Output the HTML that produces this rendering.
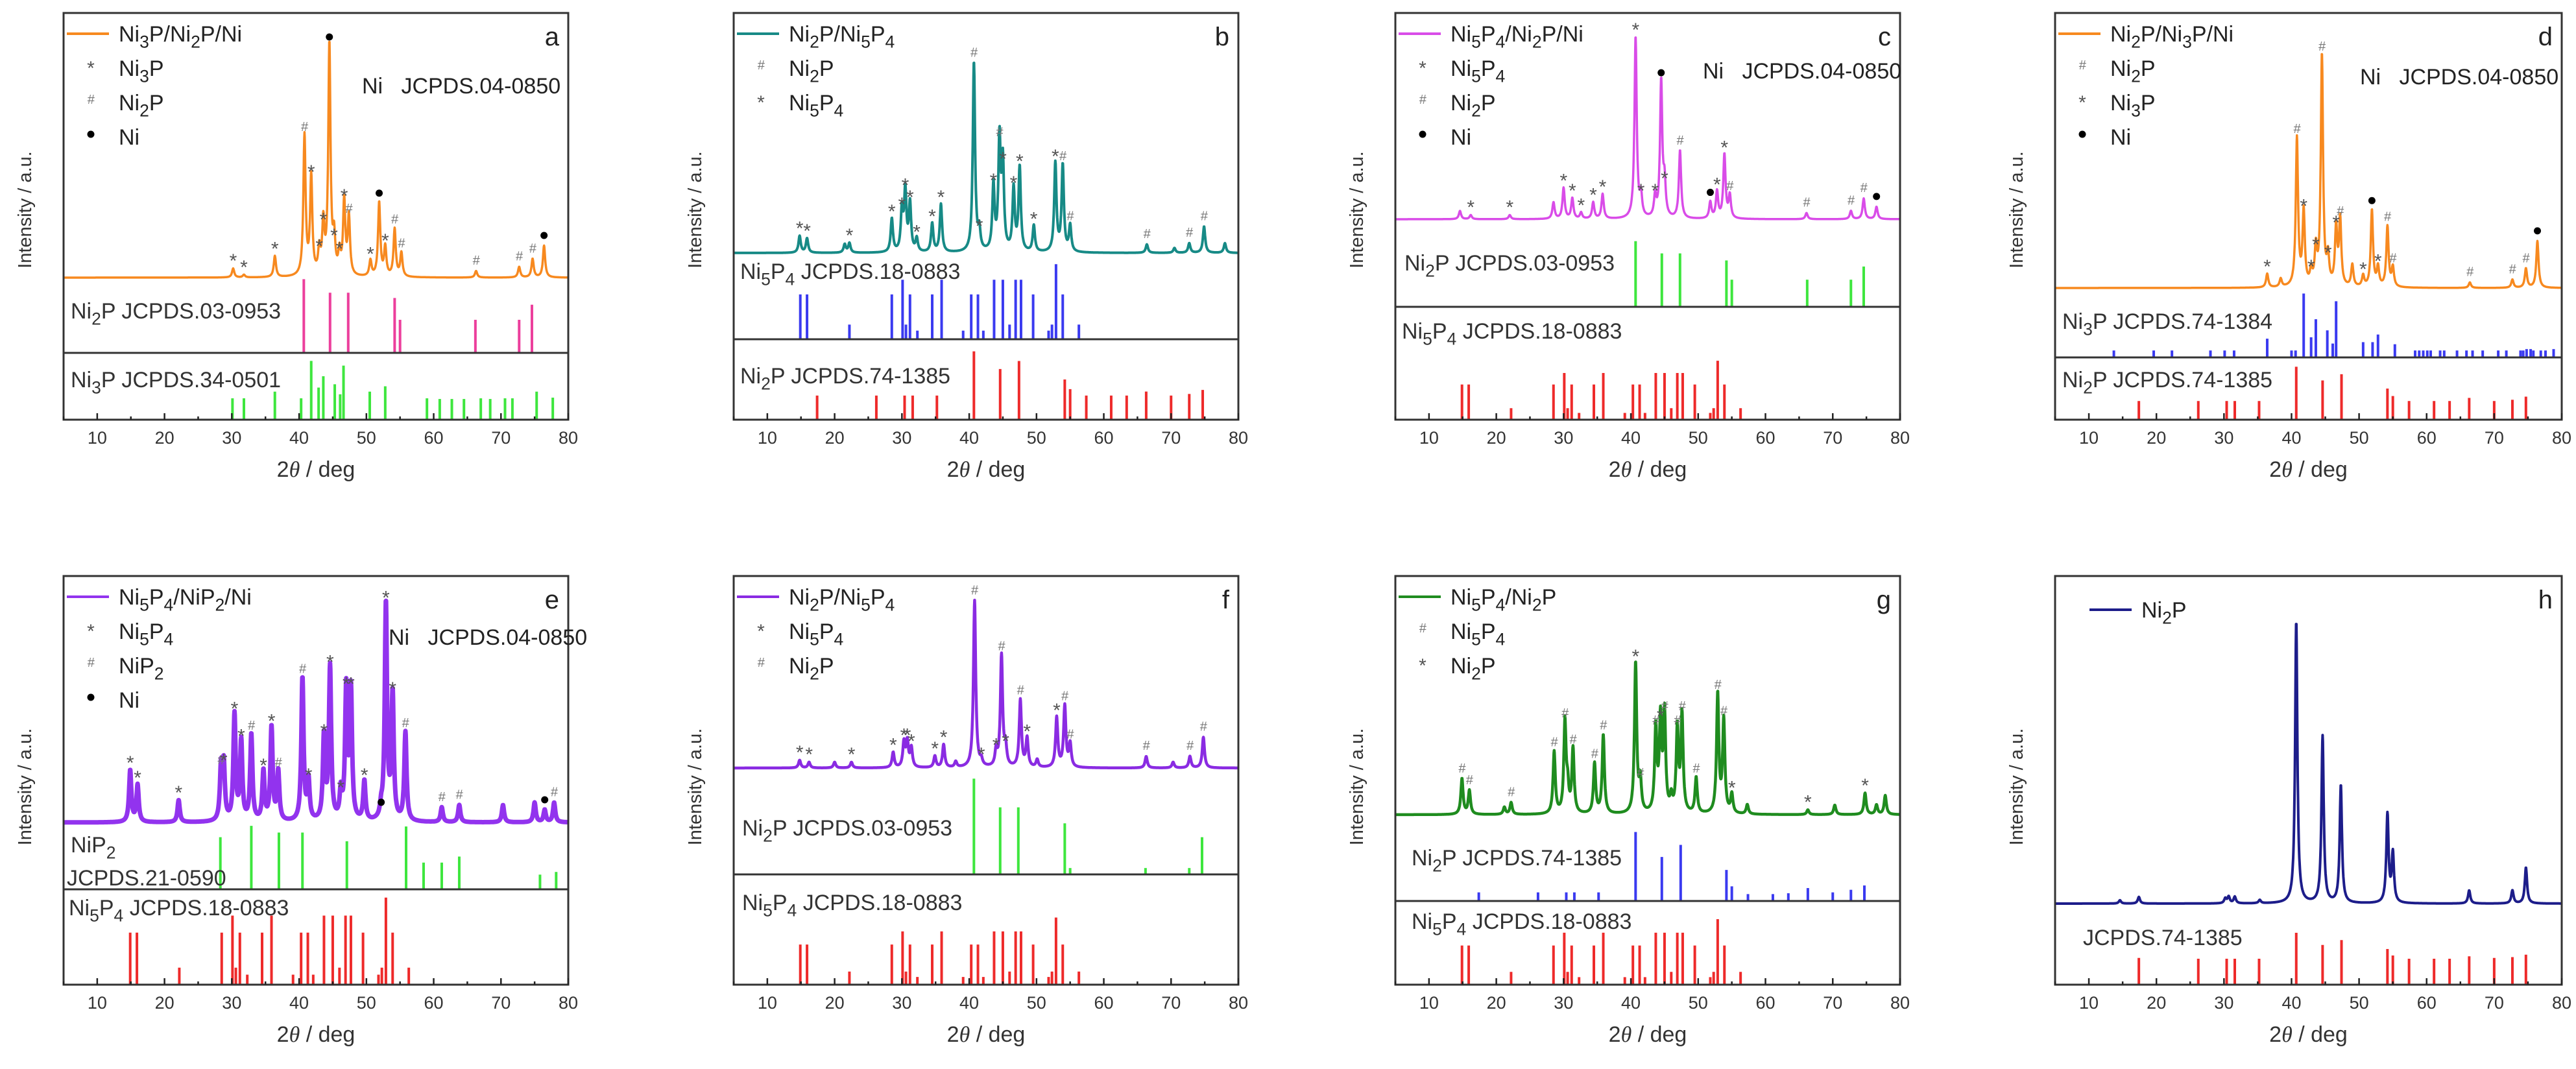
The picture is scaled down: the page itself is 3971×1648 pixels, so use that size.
<!DOCTYPE html>
<html><head><meta charset="utf-8"><style>
html,body{margin:0;padding:0;background:#fff;}
svg{display:block;font-family:"Liberation Sans",sans-serif;}
</style></head><body>
<svg id="fig" xmlns="http://www.w3.org/2000/svg" width="3971" height="1648" viewBox="0 0 3971 1648"></svg>
<script>
// ---------- data ----------
const tickVals=[10,20,30,40,50,60,70,80];
const ni5X=[14.9,15.9,22.2,28.5,30.1,30.6,31.2,32.3,34.5,35.9,39.1,40.3,41.3,42.1,43.7,45.0,46.0,46.9,47.7,49.5,51.8,52.3,52.9,53.9,56.3];
const ni5H=[.52,.52,.17,.52,.69,.17,.52,.1,.52,.69,.1,.52,.52,.1,.69,.69,.17,.69,.69,.52,.1,.17,.87,.52,.17];
const ni2p74X=[17.4,26.2,30.4,31.6,35.2,40.7,44.6,47.4,54.2,55.0,57.4,61.1,63.4,66.3,70.0,72.7,74.7];
const ni2p74H=[.3,.3,.3,.3,.3,.85,.63,.73,.5,.38,.3,.3,.3,.35,.3,.32,.37];
const ni2p03X=[40.7,44.6,47.3,54.2,55.0,66.2,72.7,74.6];

const aPeakX=[30.2,31.8,36.4,40.8,41.8,43.0,43.6,44.5,45.2,46.0,46.7,47.4,50.6,51.9,52.8,54.2,55.2,66.3,72.7,74.7,76.4];
const aPeakH=[.034,.01,.08,.53,.37,.09,.19,.87,.13,.08,.28,.22,.06,.28,.11,.18,.09,.025,.04,.07,.12];
const aMarks=['*','*','*','#','*','*','*','•','*','*','*','#','*','•','*','#','#','#','#','#','•'];
const aS1H=[.98,.8,.8,.73,.44,.44,.44,.64];
const aS2X=[30.1,31.8,36.4,40.3,41.8,42.9,43.6,45.3,46.1,46.6,50.5,52.8,59.0,60.9,62.7,64.5,67.0,68.4,70.6,71.7,75.3,77.7];
const aS2H=[.32,.32,.42,.32,.88,.48,.65,.53,.38,.81,.42,.50,.32,.31,.31,.31,.32,.31,.32,.32,.42,.33];

const bPeakX=[14.8,15.9,21.5,22.2,28.5,30.0,30.5,31.2,32.2,34.5,35.8,40.7,41.5,43.6,44.5,45.0,46.6,47.5,49.6,52.8,53.9,55.0,66.4,70.5,72.7,74.9,78.0];
const bPeakH=[.07,.06,.035,.04,.14,.17,.25,.2,.055,.12,.2,.79,.08,.27,.46,.36,.26,.35,.11,.37,.36,.11,.035,.02,.04,.11,.04];
const bMarks=['*','*','','*','*','*','*','*','*','*','*','#','*','*','#','*','*','*','*','*','#','#','#','','#','#',''];

const cPeakX=[14.6,16.2,22.0,28.5,30.0,31.3,32.6,34.4,35.8,40.7,41.5,43.6,44.5,45.0,47.3,51.8,52.8,53.9,54.7,66.1,72.7,74.6,76.5];
const cPeakH=[.04,.02,.02,.08,.15,.1,.03,.08,.12,.88,.1,.1,.66,.16,.33,.08,.13,.31,.11,.03,.04,.1,.06];
const cMarks=['','*','*','','*','*','*','*','*','*','*','*','•','*','#','•','*','*','#','#','#','#','•'];
const cS1H=[.75,.61,.61,.53,.31,.31,.31,.46];

const dPeakX=[36.4,38.4,40.8,41.8,42.9,43.6,44.5,45.4,46.6,47.2,49.0,50.6,51.9,52.8,54.2,55.0,66.4,72.7,74.7,76.4];
const dPeakH=[.05,.03,.54,.27,.05,.13,.84,.1,.21,.24,.08,.04,.28,.07,.22,.07,.02,.03,.07,.17];
const dMarks=['*','','#','*','*','*','#','*','*','#','','*','•','*','#','#','#','#','#','•'];
const dS1X=[13.7,19.6,22.3,28.0,30.1,31.5,36.4,40.0,40.6,41.8,42.9,43.6,45.3,46.1,46.6,50.6,52.0,52.8,55.3,58.3,58.9,59.5,60.1,60.6,62.0,62.6,64.5,65.9,66.8,68.3,70.6,71.8,73.9,74.3,74.8,75.4,75.8,76.9,77.6,78.8];
const dS1H=[.1,.1,.1,.1,.1,.1,.27,.1,.1,.92,.29,.55,.39,.2,.81,.22,.22,.33,.19,.1,.1,.1,.1,.1,.1,.1,.1,.1,.1,.1,.1,.1,.1,.1,.12,.12,.1,.1,.1,.12];

const ePeakX=[14.9,16.0,22.1,28.4,28.8,30.4,31.4,32.9,34.7,35.9,36.9,40.5,41.4,43.7,44.6,46.2,47.0,47.7,49.7,52.2,52.9,53.9,55.8,61.2,63.8,70.3,75.0,76.5,77.9];
const ePeakH=[.21,.15,.09,.21,.22,.43,.32,.35,.2,.38,.2,.58,.16,.34,.62,.11,.53,.53,.16,.04,.88,.51,.36,.06,.07,.07,.08,.05,.08];
const eMarks=['*','*','*','#','*','*','*','#','*','*','#','#','*','*','*','*','*','*','*','•','*','*','#','#','#','','','•','#'];
const eS1X=[28.3,32.9,37.0,40.5,47.1,55.9,58.5,61.2,63.8,75.8,78.2];
const eS1H=[.78,.95,.85,.85,.72,.94,.4,.4,.49,.22,.26];

const fPeakX=[14.8,16.2,20.0,22.5,28.7,30.3,30.8,31.4,34.9,36.2,38.0,40.8,41.8,44.0,44.8,45.4,47.6,48.6,50.1,53.0,54.2,55.0,66.3,70.3,72.8,74.8];
const fPeakH=[.04,.03,.03,.03,.08,.13,.13,.1,.06,.12,.03,.87,.03,.08,.58,.1,.35,.15,.04,.26,.32,.12,.06,.03,.06,.16];
const fMarks=['*','*','','*','*','*','*','*','*','*','','#','*','*','#','*','#','*','','*','#','#','#','','#','#'];
const fS1H=[.9,.63,.63,.48,.06,.06,.06,.35];

const gPeakX=[14.9,16.0,21.2,22.2,28.6,30.2,30.6,31.4,34.6,35.9,40.7,41.4,43.7,44.4,45.0,46.0,46.9,47.6,49.7,52.9,53.8,55.0,57.3,66.3,70.3,74.8,76.5,77.8];
const gPeakH=[.15,.1,.03,.05,.26,.38,.1,.27,.21,.33,.63,.13,.35,.38,.41,.06,.35,.41,.15,.5,.39,.08,.04,.02,.04,.09,.04,.08];
const gMarks=['#','#','','#','#','#','','#','#','#','*','#','#','*','#','','#','#','#','#','#','*','','*','','*','',''];
const gS1H=[.1,.1,.1,.1,.1,.8,.51,.65,.36,.17,.08,.08,.09,.15,.1,.13,.18];

const hPeakX=[14.6,17.4,30.2,30.7,31.6,35.3,40.7,44.6,47.3,54.2,55.0,66.3,72.7,74.7];
const hPeakH=[.01,.02,.015,.02,.02,.01,.86,.51,.36,.27,.15,.04,.04,.11];
const hS1H=[.33,.32,.32,.32,.32,.64,.49,.55,.44,.36,.32,.32,.32,.35,.33,.34,.37];

// ---------- layout ----------
const panels=[
 {id:'a',x0:98,x1:876,y0:20,y1:647,base:428,div:544,col:'#f7891f',lw:3.5,px:aPeakX,ph:aPeakH,mk:aMarks,
  legend:[['line','Ni_3P/Ni_2P/Ni'],['*','Ni_3P'],['#','Ni_2P'],['•','Ni']],ni:[460,112],
  s1:{x:ni2p03X,h:aS1H,sc:1,col:'#ec3f9c',lab:'Ni_2P JCPDS.03-0953',lx:11,ly:491},
  s2:{x:aS2X,h:aS2H,sc:1,col:'#3ee63e',lab:'Ni_3P JCPDS.34-0501',lx:11,ly:597}},
 {id:'b',x0:1131,x1:1909,y0:20,y1:647,base:390,div:523,col:'#178a86',lw:4,px:bPeakX,ph:bPeakH,mk:bMarks,
  legend:[['line','Ni_2P/Ni_5P_4'],['#','Ni_2P'],['*','Ni_5P_4']],
  s1:{x:ni5X,h:ni5H,sc:1,col:'#3a3af0',lab:'Ni_5P_4 JCPDS.18-0883',lx:10,ly:430},
  s2:{x:ni2p74X,h:ni2p74H,sc:1,col:'#ee2a2a',lab:'Ni_2P  JCPDS.74-1385',lx:10,ly:591}},
 {id:'c',x0:2151,x1:2929,y0:20,y1:647,base:338,div:473,col:'#d94ce8',lw:3.5,px:cPeakX,ph:cPeakH,mk:cMarks,
  legend:[['line','Ni_5P_4/Ni_2P/Ni'],['*','Ni_5P_4'],['#','Ni_2P'],['•','Ni']],ni:[474,89],
  s1:{x:ni2p03X,h:cS1H,sc:1,col:'#3ee63e',lab:'Ni_2P  JCPDS.03-0953',lx:14,ly:417},
  s2:{x:ni5X,h:ni5H,sc:.6,col:'#ee2a2a',lab:'Ni_5P_4  JCPDS.18-0883',lx:10,ly:522}},
 {id:'d',x0:3168,x1:3949,y0:20,y1:647,base:444,div:551,col:'#f7891f',lw:3.5,px:dPeakX,ph:dPeakH,mk:dMarks,
  legend:[['line','Ni_2P/Ni_3P/Ni'],['#','Ni_2P'],['*','Ni_3P'],['•','Ni']],ni:[470,98],
  s1:{x:dS1X,h:dS1H,sc:1,col:'#3a3af0',lab:'Ni_3P JCPDS.74-1384',lx:11,ly:507},
  s2:{x:ni2p74X,h:ni2p74H,sc:1,col:'#ee2a2a',lab:'Ni_2P JCPDS.74-1385',lx:11,ly:597}},
 {id:'e',x0:98,x1:876,y0:888,y1:1518,base:1268,div:1371,col:'#9233ee',lw:7,px:ePeakX,ph:ePeakH,mk:eMarks,
  legend:[['line','Ni_5P_4/NiP_2/Ni'],['*','Ni_5P_4'],['#','NiP_2'],['•','Ni']],ni:[501,94],
  s1:{x:eS1X,h:eS1H,sc:1,col:'#3ee63e',lab:'NiP_2',lx:11,ly:1314,lab2:'JCPDS.21-0590',ly2:1365},
  s2:{x:ni5X,h:ni5H,sc:1.05,col:'#ee2a2a',lab:'Ni_5P_4 JCPDS.18-0883',lx:8,ly:1411}},
 {id:'f',x0:1131,x1:1909,y0:888,y1:1518,base:1184,div:1348,col:'#8a2be2',lw:4.5,px:fPeakX,ph:fPeakH,mk:fMarks,
  legend:[['line','Ni_2P/Ni_5P_4'],['*','Ni_5P_4'],['#','Ni_2P']],
  s1:{x:ni2p03X,h:fS1H,sc:1,col:'#3ee63e',lab:'Ni_2P JCPDS.03-0953',lx:13,ly:1288},
  s2:{x:ni5X,h:ni5H,sc:.7,col:'#ee2a2a',lab:'Ni_5P_4 JCPDS.18-0883',lx:13,ly:1403}},
 {id:'g',x0:2151,x1:2929,y0:888,y1:1518,base:1256,div:1389,col:'#1f8c1f',lw:4.5,px:gPeakX,ph:gPeakH,mk:gMarks,
  legend:[['line','Ni_5P_4/Ni_2P'],['#','Ni_5P_4'],['*','Ni_2P']],
  s1:{x:ni2p74X,h:gS1H,sc:1,col:'#3a3af0',lab:'Ni_2P  JCPDS.74-1385',lx:25,ly:1334},
  s2:{x:ni5X,h:ni5H,sc:.9,col:'#ee2a2a',lab:'Ni_5P_4 JCPDS.18-0883',lx:25,ly:1432}},
 {id:'h',x0:3168,x1:3949,y0:888,y1:1518,base:1393,div:null,col:'#1d1d8a',lw:4,px:hPeakX,ph:hPeakH,mk:null,
  legend:[['line','Ni_2P']],legX:53,
  s2:{x:ni2p74X,h:hS1H,sc:1,col:'#ee2a2a',lab:'JCPDS.74-1385',lx:43,ly:1457}}
];

const NS='http://www.w3.org/2000/svg';
const svg=document.getElementById('fig');
function el(tag,attrs,parent){const e=document.createElementNS(NS,tag);for(const k in attrs)e.setAttribute(k,attrs[k]);(parent||svg).appendChild(e);return e;}
function chem(t,str,fs){
  const parts=str.split(/(_\d)/);
  let pendingUp=0;
  parts.forEach(p=>{
    if(!p)return;
    if(p[0]==='_'){
      const s=el('tspan',{dy:fs*0.28-pendingUp,'font-size':fs*0.78},t);s.textContent=p[1];
      pendingUp=fs*0.28;
    } else {
      const s=el('tspan',{dy:-pendingUp},t);s.textContent=p;pendingUp=0;
    }
  });
}
function drawMarker(g,type,x,y,name){
  let t;
  if(type==='*'){t=el('text',{x:x,y:y+14,'font-size':30,fill:'#555','text-anchor':'middle'},g);t.textContent='*';}
  else if(type==='#'){t=el('text',{x:x,y:y+6,'font-size':20,fill:'#777','font-style':'italic','text-anchor':'middle'},g);t.textContent='#';}
  else {t=el('circle',{cx:x,cy:y,r:5.5,fill:'#000'},g);}
  
  
}

panels.forEach(p=>{
  const g=el('g',{});
  
  
  const X=v=>p.x0+(v-5)/75*(p.x1-p.x0);
  const Ytr=v=>p.base-v*(p.base-p.y0);
  function sticks(s,top,bot,name){
    const sg=el('g',{},g);
    
    
    s.x.forEach((v,i)=>{
      const len=s.h[i]*s.sc*(bot-top);
      const l=el('line',{x1:X(v),x2:X(v),y1:bot,y2:bot-len,stroke:s.col,'stroke-width':4},sg);
      
      
    });
    const t=el('text',{x:p.x0+s.lx,y:s.ly,'font-size':34,fill:'#333'},g);
    chem(t,s.lab,34);
    
    
    if(s.lab2){const t2=el('text',{x:p.x0+5,y:s.ly2,'font-size':34,fill:'#333'},g);t2.textContent=s.lab2;
      
      }
  }
  if(p.s1)sticks(p.s1,p.base,p.div,'reference-pattern-1');
  if(p.s2)sticks(p.s2,p.div||p.base,p.y1,'reference-pattern-2');
  let d='';
  for(let x=5;x<=80.001;x+=0.04){
    let s=0;p.px.forEach((c,i)=>{const u=(x-c)/0.2;s+=p.ph[i]/(1+u*u);});
    d+=(d?'L':'M')+X(x).toFixed(1)+','+Ytr(s).toFixed(1);
  }
  const path=el('path',{d:d,fill:'none',stroke:p.col,'stroke-width':p.lw,'stroke-linejoin':'round'},g);
  
  
  if(p.mk){p.px.forEach((c,i)=>{if(p.mk[i])drawMarker(g,p.mk[i],X(c),Ytr(p.ph[i])-16,'peak-marker');});}
  const fr=el('rect',{x:p.x0,y:p.y0,width:p.x1-p.x0,height:p.y1-p.y0,fill:'none',stroke:'#333','stroke-width':3},g);
  
  
  if(p.div){const dl=el('line',{x1:p.x0,x2:p.x1,y1:p.div,y2:p.div,stroke:'#333','stroke-width':3},g);
    
    }
  for(let v=5;v<=80;v+=5){
    const major=v%10===0;
    const tk=el('line',{x1:X(v),x2:X(v),y1:p.y1,y2:p.y1-(major?10:5),stroke:'#222','stroke-width':2.5},g);
    
    
  }
  tickVals.forEach(v=>{
    const t=el('text',{x:X(v),y:p.y1+37,'font-size':27,fill:'#333','text-anchor':'middle'},g);
    t.textContent=v;
    
    
  });
  const xt=el('text',{x:(p.x0+p.x1)/2,y:p.y1+88,'font-size':34,fill:'#333','text-anchor':'middle'},g);
  xt.innerHTML='2<tspan font-style="italic" font-family="Liberation Serif">θ</tspan> / deg';
  
  
  const yc=(p.y0+p.y1)/2+(p.id==='e'||p.id==='f'||p.id==='g'||p.id==='h'?10:-10);
  const yt=el('text',{x:p.x0-50,y:yc,'font-size':29,fill:'#333','text-anchor':'middle',transform:`rotate(-90 ${p.x0-50} ${yc})`},g);
  yt.textContent='Intensity / a.u.';
  
  
  const lt=el('text',{x:p.x1-14,y:p.y0+50,'font-size':40,fill:'#222','text-anchor':'end'},g);
  lt.textContent=p.id;
  
  
  const lx=p.x0+(p.legX||5);
  p.legend.forEach((e,i)=>{
    const cy=p.y0+32+i*53+(p.legX?20:0);
    if(e[0]==='line'){const ln=el('line',{x1:lx,x2:lx+65,y1:cy,y2:cy,stroke:p.col,'stroke-width':4},g);
      
      }
    else drawMarker(g,e[0],lx+37,cy-4,'legend-marker');
    const t=el('text',{x:lx+80,y:cy+12,'font-size':34,fill:'#222'},g);
    chem(t,e[1],34);
    
    
  });
  if(p.ni){const t=el('text',{x:p.x0+p.ni[0],y:p.y0+p.ni[1]+12,'font-size':34,fill:'#222'},g);
    t.textContent='Ni   JCPDS.04-0850';
    t.style.whiteSpace='pre';
    
    }
});
</script>
</body></html>
